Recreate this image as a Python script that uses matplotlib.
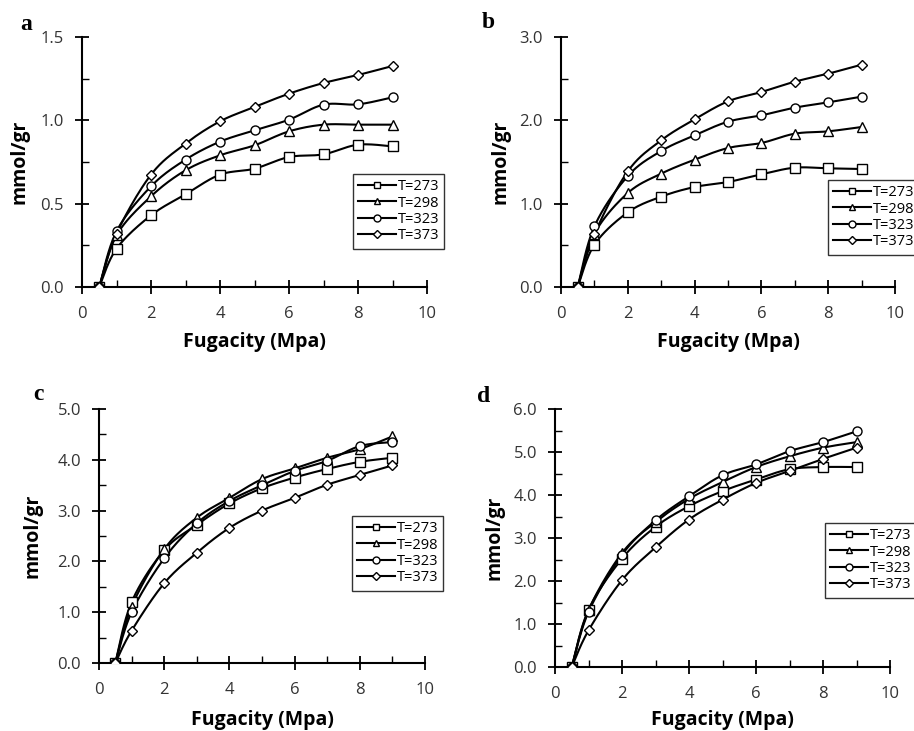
import numpy as np
import matplotlib
matplotlib.use("Agg")
import matplotlib.pyplot as plt
from matplotlib.ticker import MultipleLocator, FormatStrFormatter

plt.rcParams['font.family'] = ['Open Sans', 'DejaVu Sans']

fugacity = [0.5, 1, 2, 3, 4, 5, 6, 7, 8, 9]
temps = ['T=273', 'T=298', 'T=323', 'T=373']
markers = ['s', '^', 'o', 'D']

# adsorbed amount (mmol/gr) per panel and temperature
a_273 = [0, 0.23, 0.43, 0.556, 0.674, 0.71, 0.78, 0.796, 0.854, 0.844]
a_298 = [0, 0.31, 0.544, 0.70, 0.79, 0.85, 0.934, 0.974, 0.974, 0.974]
a_323 = [0, 0.334, 0.604, 0.764, 0.872, 0.94, 1.004, 1.094, 1.096, 1.138]
a_373 = [0, 0.32, 0.674, 0.86, 0.994, 1.08, 1.16, 1.224, 1.272, 1.326]

b_273 = [0, 0.508, 0.896, 1.084, 1.20, 1.26, 1.352, 1.432, 1.424, 1.416]
b_298 = [0, 0.64, 1.128, 1.36, 1.528, 1.668, 1.728, 1.84, 1.868, 1.92]
b_323 = [0, 0.728, 1.332, 1.632, 1.82, 1.984, 2.06, 2.152, 2.216, 2.284]
b_373 = [0, 0.632, 1.388, 1.76, 2.012, 2.228, 2.34, 2.464, 2.56, 2.668]

c_273 = [0, 1.2, 2.22, 2.72, 3.14, 3.44, 3.65, 3.82, 3.96, 4.04]
c_298 = [0, 1.11, 2.24, 2.86, 3.25, 3.62, 3.83, 4.04, 4.21, 4.46]
c_323 = [0, 1.0, 2.06, 2.75, 3.19, 3.50, 3.78, 3.98, 4.27, 4.35]
c_373 = [0, 0.635, 1.57, 2.17, 2.66, 3.0, 3.25, 3.51, 3.70, 3.89]

d_273 = [0, 1.33, 2.52, 3.26, 3.74, 4.09, 4.36, 4.60, 4.65, 4.65]
d_298 = [0, 1.32, 2.65, 3.37, 3.91, 4.30, 4.65, 4.90, 5.10, 5.23]
d_323 = [0, 1.28, 2.61, 3.41, 3.97, 4.46, 4.71, 5.02, 5.23, 5.48]
d_373 = [0, 0.85, 2.02, 2.78, 3.43, 3.89, 4.28, 4.56, 4.84, 5.10]

panels = [
    ('a', [a_273, a_298, a_323, a_373], 1.5, 0.5),
    ('b', [b_273, b_298, b_323, b_373], 3.0, 1.0),
    ('c', [c_273, c_298, c_323, c_373], 5.0, 1.0),
    ('d', [d_273, d_298, d_323, d_373], 6.0, 1.0),
]

# axes boxes in pixels: left, right, top, bottom
W, H = 914, 731
boxes = [(82, 427, 37, 287), (561, 895, 37, 287),
         (99, 425, 409, 663), (555, 890, 409, 667)]
# legend boxes in pixels: left, top
legend_pos = [(353, 174), (828, 180), (352, 516), (825, 523)]
# panel letters in pixels: left, centre height
letter_pos = [(20, 25), (482, 23), (33, 395), (477, 397)]
# x label centre heights and y label centre positions, pixels
xlabel_y = [342, 342, 720, 720]
ylabel_x = [20, 500, 32, 494]


def smooth(x, y, n=20):
    # Catmull-Rom curve through the points, like a spreadsheet "smoothed line"
    p = np.column_stack([x, y]).astype(float)
    p = np.vstack([p[0], p, p[-1]])
    out = []
    for i in range(1, len(p) - 2):
        p0, p1, p2, p3 = p[i - 1], p[i], p[i + 1], p[i + 2]
        t = np.linspace(0, 1, n, endpoint=False)[:, None]
        seg = 0.5 * ((2 * p1) + (-p0 + p2) * t + (2 * p0 - 5 * p1 + 4 * p2 - p3) * t ** 2
                     + (-p0 + 3 * p1 - 3 * p2 + p3) * t ** 3)
        out.append(seg)
    out.append(p[-2][None, :])
    out = np.vstack(out)
    return out[:, 0], out[:, 1]


fig = plt.figure(figsize=(W / 100, H / 100), dpi=100)

for i, ((letter, series, ymax, ystep), (l, r, t, b), (lx, ly)) in enumerate(
        zip(panels, boxes, legend_pos)):
    ax = fig.add_axes([l / W, 1 - b / H, (r - l) / W, (b - t) / H])
    for vals, lab, m in zip(series, temps, markers):
        sx, sy = smooth(fugacity, vals)
        ax.plot(sx, sy, color='black', lw=1.5, zorder=2)
        ax.plot(fugacity, vals, ls='none', marker=m, ms=6.5 if m != 'D' else 5.5,
                mfc='white', mec='black', mew=1.0, zorder=3)
        ax.plot([], [], color='black', lw=1.5, marker=m, ms=5 if m != 'D' else 4,
                mfc='white', mec='black', mew=1.0, label=lab)

    ax.set_xlim(0, 10)
    ax.set_ylim(0, ymax)
    ax.xaxis.set_major_locator(MultipleLocator(2))
    ax.xaxis.set_minor_locator(MultipleLocator(1))
    ax.yaxis.set_major_locator(MultipleLocator(ystep))
    ax.yaxis.set_minor_locator(MultipleLocator(ystep / 2))
    ax.yaxis.set_major_formatter(FormatStrFormatter('%.1f'))
    for s in ['top', 'right']:
        ax.spines[s].set_visible(False)
    for s in ['left', 'bottom']:
        ax.spines[s].set_linewidth(1.5)
    ax.tick_params(axis='x', which='major', direction='inout', length=10, width=1.3,
                   labelsize=12, pad=9, labelcolor='#333333')
    ax.tick_params(axis='x', which='minor', direction='in', length=5, width=1.0)
    ax.tick_params(axis='y', which='major', direction='inout', length=10, width=1.3,
                   labelsize=12, pad=8, labelcolor='#333333')
    ax.tick_params(axis='y', which='minor', direction='in', length=5, width=1.0)
    ax.set_xlabel('Fugacity (Mpa)', fontsize=14, fontweight='bold')
    ax.set_ylabel('mmol/gr', fontsize=14, fontweight='bold')
    ax.xaxis.set_label_coords(0.5, (b - xlabel_y[i]) / (b - t), transform=ax.transAxes)
    ax.xaxis.label.set_va('center')
    ax.yaxis.set_label_coords((ylabel_x[i] - l) / (r - l), 0.5, transform=ax.transAxes)
    ax.yaxis.label.set_va('center')

    leg = ax.legend(loc='upper left', bbox_to_anchor=((lx - l) / (r - l), (b - ly) / (b - t)),
                    frameon=True, fancybox=False, fontsize=10.5, handlelength=2.6,
                    handletextpad=0.1, labelspacing=0.1, borderpad=0.35, borderaxespad=0)
    leg.get_frame().set_edgecolor('black')
    leg.get_frame().set_linewidth(1.0)

    px, py = letter_pos[i]
    fig.text(px / W, 1 - py / H, letter, fontsize=17, fontweight='bold',
             family='Liberation Serif', ha='left', va='center')

fig.savefig('out.png', dpi=100)
